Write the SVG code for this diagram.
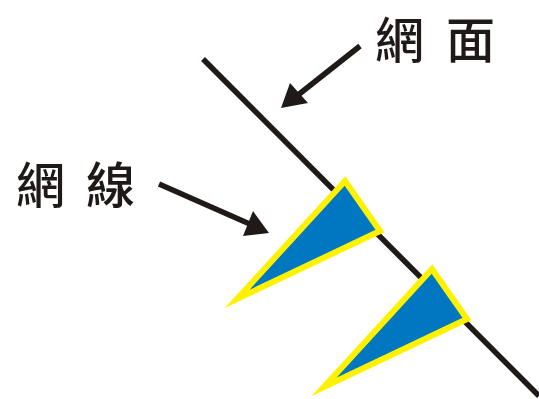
<svg xmlns="http://www.w3.org/2000/svg" width="539" height="399" viewBox="0 0 539 399">
<style>
.line{stroke:#1f1a17;stroke-width:5.5;fill:none}
.tri{fill:#0077c0;stroke:#fff200;stroke-width:6;stroke-linejoin:miter;stroke-miterlimit:10}
.lbl{font-family:"Noto Sans CJK TC","Noto Sans CJK SC",sans-serif;font-size:49px;font-weight:500;fill:#1f1a17}
.head{fill:#1f1a17}
</style>
<g id="net-surface-line">
<line class="line" x1="203" y1="59" x2="539" y2="396"/>
</g>
<g id="triangle-1">
<polygon class="tri" points="345,181 380,231 237,299"/>
</g>
<g id="triangle-2">
<polygon class="tri" points="432,269 467,319 324,387"/>
</g>
<g id="label-surface">
<text class="lbl" x="375" y="58">網<tspan x="446">面</tspan></text>
</g>
<g id="label-line">
<text class="lbl" x="16" y="203">網<tspan x="86">線</tspan></text>
</g>
<g id="connectors">
<line class="line" x1="360" y1="46" x2="298" y2="95"/>
<polygon class="head" points="281,108 290,83 308,103"/>
<line class="line" x1="159" y1="184" x2="252" y2="225"/>
<polygon class="head" points="269,233 253,211 243,236"/>
</g>
</svg>
